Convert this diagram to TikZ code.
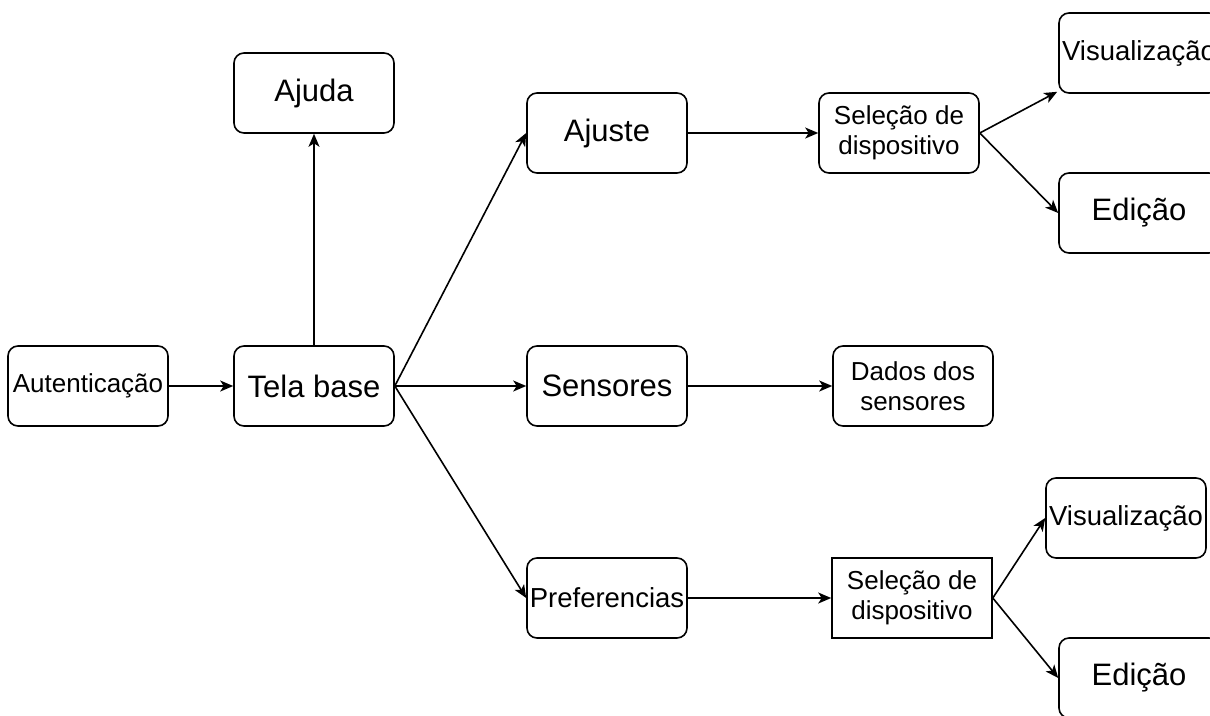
\documentclass[tikz,border=0pt]{standalone}
\usepackage{fontspec}
\setmainfont{Liberation Sans}
\usetikzlibrary{arrows.meta}
\begin{document}
\begin{tikzpicture}[x=1pt,y=-1pt,
  box/.style={draw, line width=1.6pt, rounded corners=10pt, minimum width=160pt, minimum height=80pt, inner sep=0pt, align=center},
  sharpbox/.style={box, rounded corners=0pt},
  big/.style={font=\fontsize{31}{35}\selectfont},
  mid/.style={font=\fontsize{27.5}{31}\selectfont},
  small/.style={font=\fontsize{26}{30}\selectfont},
  conn/.style={line width=1.6pt, -{Stealth[length=13pt,width=11pt,inset=3.5pt]}}]
\useasboundingbox (0,0) rectangle (1210,715);
\clip (0,0) rectangle (1210,715);
\node[box,small] (aut) at (88,386) {Autenticação};
\node[box,big] (tela) at (314,386) {Tela base};
\node[box,big] (ajuda) at (314,93) {Ajuda};
\node[box,big] (ajuste) at (607,133) {Ajuste};
\node[box,big] (sens) at (607,386) {Sensores};
\node[box,mid] (pref) at (607,598) {Preferencias};
\node[box,small] (sel1) at (899,133) {Seleção de\\dispositivo};
\node[box,small] (dados) at (913,386) {Dados dos\\sensores};
\node[sharpbox,small] (sel2) at (912,598) {Seleção de\\dispositivo};
\node[box,mid] (vis1) at (1139,53) {Visualização};
\node[box,big] (ed1) at (1139,213) {Edição};
\node[box,mid] (vis2) at (1126,518) {Visualização};
\node[box,big] (ed2) at (1139,678) {Edição};
\draw[conn] (aut.east) -- (tela.west);
\draw[conn] (tela.north) -- (ajuda.south);
\draw[conn] (tela.east) -- (ajuste.west);
\draw[conn] (tela.east) -- (sens.west);
\draw[conn] (tela.east) -- (pref.west);
\draw[conn] (ajuste.east) -- (sel1.west);
\draw[conn] (sens.east) -- (dados.west);
\draw[conn] (pref.east) -- (sel2.west);
\draw[conn] (sel1.east) -- ([xshift=-1pt,yshift=2pt]vis1.south west);
\draw[conn] (sel1.east) -- (ed1.west);
\draw[conn] (sel2.east) -- (vis2.west);
\draw[conn] (sel2.east) -- (ed2.west);
\end{tikzpicture}
\end{document}
